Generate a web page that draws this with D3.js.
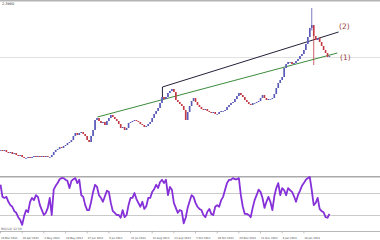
<!DOCTYPE html>
<html>
<head>
<meta charset="utf-8">
<script src="https://cdn.jsdelivr.net/npm/d3@7"></script>
<style>
  body { margin: 0; background: #fff; }
  svg { display: block; font-family: "DejaVu Sans", sans-serif; }
</style>
</head>
<body>
<svg id="chart"></svg>
<script>
// daily closes (USD/TRY style), one value per bar
const closes = [
  1.822,1.818,1.822,1.814,1.810,1.814,1.806,1.810,1.802,1.798,
  1.802,1.794,1.790,1.790,1.794,1.790,1.794,1.798,1.794,1.798,
  1.794,1.798,1.794,1.798,1.794,1.794,1.802,1.814,1.822,1.826,
  1.834,1.830,1.838,1.842,1.850,1.854,1.862,1.878,1.890,1.882,
  1.890,1.894,1.886,1.878,1.862,1.854,1.878,1.902,1.942,1.950,
  1.938,1.930,1.934,1.922,1.938,1.950,1.962,1.954,1.946,1.938,
  1.926,1.910,1.914,1.902,1.910,1.930,1.934,1.938,1.942,1.938,
  1.934,1.926,1.922,1.914,1.918,1.926,1.934,1.950,1.966,1.978,
  1.990,2.010,2.034,2.026,2.034,2.050,2.058,2.066,2.054,2.022,
  2.014,2.006,1.998,1.982,1.942,1.974,1.998,2.018,2.030,2.014,
  2.002,1.994,1.986,1.982,1.986,1.978,1.974,1.970,1.974,1.966,
  1.966,1.974,1.978,1.978,1.982,1.994,2.002,2.010,2.014,2.026,
  2.038,2.050,2.042,2.034,2.022,2.014,2.006,2.002,2.010,2.010,
  2.014,2.018,2.030,2.042,2.030,2.022,2.026,2.026,2.030,2.046,
  2.070,2.090,2.102,2.114,2.150,2.166,2.174,2.174,2.166,2.170,
  2.178,2.186,2.198,2.206,2.222,2.246,2.274,2.310,2.322,2.278,
  2.262,2.270,2.254,2.238,2.222,2.210,2.194,2.198
];

// long wicks [bar, high, low]
const wicks = [[158, 2.390, 2.300], [159, 2.322, 2.162]];

// oscillator values, one per bar
const rsi = [
  85,63,61,63,54,48,45,37,34,26,
  21,12,28,39,35,54,61,57,66,63,
  48,39,30,34,43,61,30,76,83,88,
  95,97,97,94,92,79,92,95,97,88,
  94,66,63,48,39,39,54,72,85,81,
  66,61,54,64,74,72,52,37,34,30,
  30,25,39,26,30,48,61,61,70,59,
  52,45,54,41,46,61,61,72,77,85,
  79,90,94,88,94,66,81,76,52,43,
  34,39,37,15,25,43,55,66,63,52,
  45,41,39,30,26,36,41,32,30,45,
  48,45,57,63,76,88,94,94,97,95,
  95,97,66,45,32,32,30,26,43,57,
  66,76,72,61,43,54,63,54,39,64,
  79,88,66,79,75,66,79,75,72,64,
  54,66,74,83,88,94,97,99,75,48,
  52,61,41,37,35,26,25,32
];
const rsiLevels = [70, 30];

// trend lines [bar, price]
const line2 = [[82.2, 2.074], [171.6, 2.294]];
const line2Anchor = [[82.2, 2.074], [82.2, 2.034]];
const line1 = [[49.2, 1.954], [171.0, 2.210]];
const currentPrice = 2.194;

const tickBars = [0, 11, 22, 33, 44, 55, 66, 77, 88, 99, 110, 121, 132, 143, 154];
const tickLabels = ["28 Mar 2013", "16 Apr 2013", "3 May 2013", "24 May 2013", "17 Jun 2013",
  "9 Jul 2013", "31 Jul 2013", "22 Aug 2013", "13 Sep 2013", "7 Oct 2013", "29 Oct 2013",
  "20 Nov 2013", "11 Dec 2013", "6 Jan 2014", "28 Jan 2014"];

const W = 380, H = 240;
const svg = d3.select("#chart").attr("width", W).attr("height", H);

const x = d3.scaleLinear().domain([0, 1]).range([0.5, 2.47]); // 1.97 px per bar
const y = d3.scaleLinear().domain([1.79, 2.39]).range([158, 8]);
const yr = d3.scaleLinear().domain([0, 100]).range([231.5, 176.5]);

const upCol = "#5a5ab8", downCol = "#c43a44";

// current price line
svg.append("line").attr("x1", 0).attr("x2", W)
  .attr("y1", Math.round(y(currentPrice)) + 0.5).attr("y2", Math.round(y(currentPrice)) + 0.5)
  .attr("stroke", "#e2e2e2").attr("stroke-width", 1);

// top border
svg.append("rect").attr("x", 0).attr("y", 0).attr("width", W).attr("height", 1.5).attr("fill", "#b4b4b4");

// trend lines
const tl = d3.line().x(d => x(d[0])).y(d => y(d[1]));
svg.append("path").attr("d", tl(line1)).attr("stroke", "#3c8c3c").attr("stroke-width", 1).attr("fill", "none");
svg.append("path").attr("d", tl(line2)).attr("stroke", "#22223a").attr("stroke-width", 1).attr("fill", "none");
svg.append("path").attr("d", tl(line2Anchor)).attr("stroke", "#22223a").attr("stroke-width", 1).attr("fill", "none");

// candles
const bars = closes.map((c, i) => {
  const o = i > 0 ? closes[i - 1] : c;
  const w = wicks.find(k => k[0] === i);
  return { i, o, c, h: w ? w[1] : Math.max(o, c), l: w ? w[2] : Math.min(o, c) };
});
const candle = svg.append("g");
candle.selectAll("line").data(bars).join("line")
  .attr("x1", d => x(d.i)).attr("x2", d => x(d.i))
  .attr("y1", d => y(d.h)).attr("y2", d => y(d.l))
  .attr("stroke", d => d.c >= d.o ? upCol : downCol).attr("stroke-width", 0.8);
candle.selectAll("rect").data(bars).join("rect")
  .attr("x", d => x(d.i) - 0.8).attr("width", 1.6)
  .attr("y", d => y(Math.max(d.o, d.c)))
  .attr("height", d => Math.max(0.8, Math.abs(y(d.o) - y(d.c))))
  .attr("fill", d => d.c >= d.o ? upCol : downCol);

// trend labels
svg.append("text").attr("x", 339).attr("y", y(line2[1][1]) - 3).text("(2)")
  .attr("font-size", 7.5).attr("fill", "#9a4040");
svg.append("text").attr("x", 340).attr("y", y(line1[1][1]) + 7).text("(1)")
  .attr("font-size", 7.5).attr("fill", "#9a4040");

// price label
svg.append("text").attr("x", 2).attr("y", 5).text("2.3960")
  .attr("font-size", 3.5).attr("fill", "#333");

// oscillator panel
svg.append("rect").attr("x", 0).attr("y", 176).attr("width", W).attr("height", 1.5).attr("fill", "#aaaaaa");
svg.selectAll(".lvl").data(rsiLevels).join("line").attr("class", "lvl")
  .attr("x1", 0).attr("x2", W)
  .attr("y1", d => Math.round(yr(d)) + 0.5).attr("y2", d => Math.round(yr(d)) + 0.5)
  .attr("stroke", "#cacaca").attr("stroke-width", 1);
svg.append("line").attr("x1", 0).attr("x2", W).attr("y1", 231.5).attr("y2", 231.5)
  .attr("stroke", "#b8b8b8").attr("stroke-width", 1);

svg.append("path").datum(rsi)
  .attr("d", d3.line().x((d, i) => x(i)).y(d => yr(d)))
  .attr("fill", "none").attr("stroke", "#8530d8").attr("stroke-width", 1.8)
  .attr("stroke-linejoin", "round");

svg.append("text").attr("x", 1).attr("y", 230).text("RSI(14) 32.50")
  .attr("font-size", 3).attr("fill", "#555");

// date axis
svg.selectAll(".tick-label").data(tickBars).join("text").attr("class", "tick-label")
  .attr("x", d => x(d) + 0.5).attr("y", 238.5)
  .text((d, i) => tickLabels[i])
  .attr("font-size", 2.6).attr("fill", "#444");
svg.selectAll(".tick").data(tickBars).join("line").attr("class", "tick")
  .attr("x1", d => x(d)).attr("x2", d => x(d)).attr("y1", 231.5).attr("y2", 233.5)
  .attr("stroke", "#888").attr("stroke-width", 0.5);
</script>
</body>
</html>
